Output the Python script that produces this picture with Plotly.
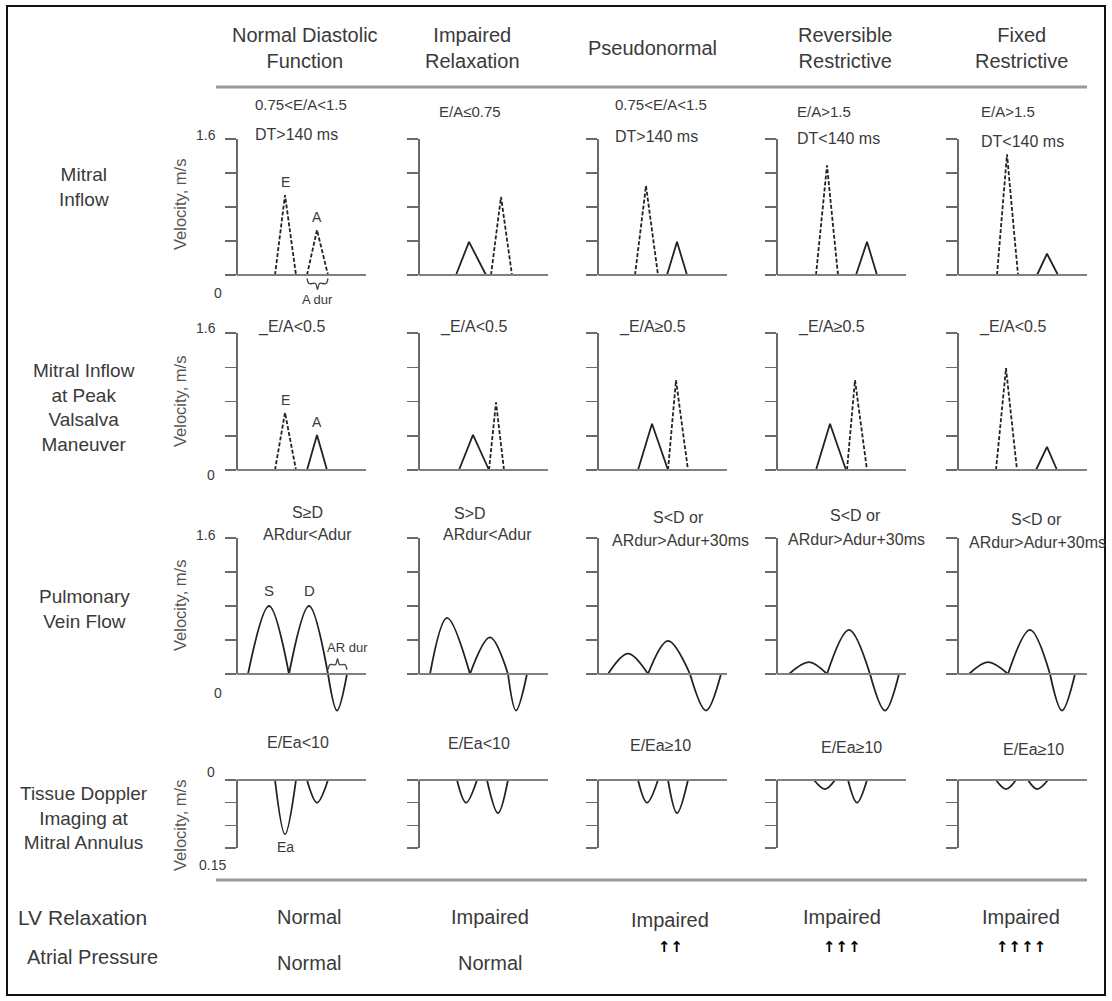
import plotly.graph_objects as go

W, H = 1112, 1001

# ---------------- data ----------------
column_titles = ["Normal Diastolic<br>Function", "Impaired<br>Relaxation", "Pseudonormal",
                 "Reversible<br>Restrictive", "Fixed<br>Restrictive"]
row_titles = ["Mitral<br>Inflow", "Mitral Inflow<br>at Peak<br>Valsalva<br>Maneuver",
              "Pulmonary<br>Vein Flow", "Tissue Doppler<br>Imaging at<br>Mitral Annulus"]

# Row 1: mitral inflow (time in arbitrary units, velocity m/s)
mi_E_start = [38, 37, 37, 39, 39]
mi_E_time = [48, 50, 48, 50, 49]
mi_E_end = [59, 67, 60, 61, 60]
mi_E_peak = [0.94, 0.39, 1.05, 1.29, 1.42]
mi_A_start = [70, 72, 69, 79, 79]
mi_A_time = [80, 82, 79, 90, 89]
mi_A_end = [91, 93, 89, 100, 100]
mi_A_peak = [0.53, 0.92, 0.39, 0.39, 0.25]
mi_crit_1 = ["0.75&lt;E/A&lt;1.5", "E/A≤0.75", "0.75&lt;E/A&lt;1.5", "E/A&gt;1.5", "E/A&gt;1.5"]
mi_crit_2 = ["DT&gt;140 ms", "", "DT&gt;140 ms", "DT&lt;140 ms", "DT&lt;140 ms"]

# Row 2: mitral inflow at peak Valsalva
vs_E_start = [38, 40, 40, 39, 38]
vs_E_time = [48, 54, 54, 53, 48]
vs_E_end = [59, 70, 70, 69, 59]
vs_E_peak = [0.67, 0.41, 0.54, 0.54, 1.19]
vs_A_start = [70, 70, 70, 70, 78]
vs_A_time = [80, 77, 78, 78, 89]
vs_A_end = [90, 85, 90, 90, 99]
vs_A_peak = [0.41, 0.79, 1.05, 1.05, 0.27]
vs_crit = ["_E/A&lt;0.5", "_E/A&lt;0.5", "_E/A≥0.5", "_E/A≥0.5", "_E/A&lt;0.5"]

# Row 3: pulmonary vein flow
pv_S_start = [11, 11, 10, 12, 11]
pv_S_time = [32, 28, 30, 32, 30]
pv_S_peak = [0.80, 0.66, 0.24, 0.14, 0.14]
pv_D_start = [52, 51, 50, 50, 50]
pv_D_time = [72, 71, 70, 72, 72]
pv_D_peak = [0.80, 0.43, 0.39, 0.52, 0.52]
pv_D_end = [91, 89, 92, 93, 92]
pv_AR_time = [100, 97, 108, 108, 104]
pv_AR_peak = [-0.43, -0.43, -0.43, -0.43, -0.43]
pv_AR_end = [110, 108, 123, 122, 117]
pv_crit_1 = ["S≥D", "S&gt;D", "S&lt;D or", "S&lt;D or", "S&lt;D or"]
pv_crit_2 = ["ARdur&lt;Adur", "ARdur&lt;Adur", "ARdur&gt;Adur+30ms", "ARdur&gt;Adur+30ms", "ARdur&gt;Adur+30ms"]

# Row 4: tissue Doppler imaging at mitral annulus (m/s, negative)
td_E_start = [38, 38, 40, 37, 38]
td_E_time = [48, 47, 49, 48, 48]
td_E_end = [59, 58, 60, 58, 58]
td_E_peak = [-0.12, -0.05, -0.05, -0.02, -0.02]
td_A_start = [70, 68, 70, 71, 70]
td_A_time = [80, 79, 79, 80, 79]
td_A_end = [91, 89, 90, 90, 90]
td_A_peak = [-0.05, -0.073, -0.073, -0.05, -0.02]
td_crit = ["E/Ea&lt;10", "E/Ea&lt;10", "E/Ea≥10", "E/Ea≥10", "E/Ea≥10"]

lv_relaxation = ["Normal", "Impaired", "Impaired", "Impaired", "Impaired"]
atrial_pressure = ["Normal", "Normal", "↑↑", "↑↑↑", "↑↑↑↑"]

# ---------------- layout geometry (pixels) ----------------
FONT = "Liberation Sans, Arial, sans-serif"
TXT = "#3a3a3a"
WAVE = "#222222"
AXC = "#6a6a6a"
AX_X = [237, 419, 598, 777, 958]
PANEL_W = 129
# (value_a, px_a, value_b, px_b, range_lo, range_hi, axis line lo, axis line hi, tickvals)
ROWS = [
    (1.6, 139, 0.0, 275, -0.3, 1.6, 0.0, 1.6, [0, 0.4, 0.8, 1.2, 1.6]),
    (1.6, 333, 0.0, 470, -0.05, 1.6, 0.0, 1.6, [0, 0.4, 0.8, 1.2, 1.6]),
    (1.6, 538, 0.0, 674, -0.5, 1.6, 0.0, 1.6, [0, 0.4, 0.8, 1.2, 1.6]),
    (0.0, 780, -0.15, 848, -0.16, 0.01, -0.15, 0.0, [0, -0.05, -0.10, -0.15]),
]


def px(x, y):
    return x / W, 1 - y / H


def vpx(r, v):
    va, pa, vb, pb = ROWS[r][:4]
    return pa + (v - va) * (pb - pa) / (vb - va)


def an(k):
    return "" if k == 1 else str(k)


fig = go.Figure()
layout = dict(width=W, height=H, margin=dict(l=0, r=0, t=0, b=0), autosize=False,
              paper_bgcolor="white", plot_bgcolor="rgba(0,0,0,0)", showlegend=False)
shapes = []
annotations = []


def ann(text, x, y, size=15, xanchor="center", yanchor="middle", color=TXT, angle=0,
        family=FONT, **kw):
    xp, yp = px(x, y)
    annotations.append(dict(text=text, x=xp, y=yp, xref="paper", yref="paper", showarrow=False,
                            xanchor=xanchor, yanchor=yanchor, textangle=angle,
                            font=dict(family=family, size=size, color=color), **kw))


for r in range(4):
    lo, hi = ROWS[r][4], ROWS[r][5]
    for c in range(5):
        k = r * 5 + c + 1
        s = an(k)
        xd = [AX_X[c] / W, (AX_X[c] + PANEL_W) / W]
        yd = [1 - vpx(r, lo) / H, 1 - vpx(r, hi) / H]
        layout[f"xaxis{s}"] = dict(domain=xd, range=[0, PANEL_W], visible=False, fixedrange=True,
                                   anchor=f"y{s}")
        layout[f"yaxis{s}"] = dict(domain=yd, range=[lo, hi], anchor=f"x{s}", showgrid=False,
                                   zeroline=False, showline=False, showticklabels=False,
                                   ticks="outside", ticklen=11, tickwidth=1.5, tickcolor=AXC,
                                   tickvals=ROWS[r][8], fixedrange=True)
        # y axis line
        shapes.append(dict(type="line", xref=f"x{s} domain", yref=f"y{s}", x0=0, x1=0,
                           y0=ROWS[r][6], y1=ROWS[r][7], line=dict(color=AXC, width=2)))
        # baseline
        shapes.append(dict(type="line", xref=f"x{s} domain", yref=f"y{s}", x0=0, x1=1,
                           y0=0, y1=0, line=dict(color="#808080", width=2.2)))


def lobe(k, t0, tp, vp, t1, smooth):
    s = an(k)
    steep = abs(vp) / (t1 - t0) > 0.024 and not smooth
    fig.add_trace(go.Scatter(
        x=[t0, tp, t1], y=[0, vp, 0], mode="lines", xaxis=f"x{s}", yaxis=f"y{s}",
        line=dict(color=WAVE, width=1.8, shape="spline" if smooth else "linear",
                  dash="4px,2px" if steep else "solid"),
        hoverinfo="skip", showlegend=False))


for c in range(5):
    k1, k2, k3, k4 = c + 1, c + 6, c + 11, c + 16
    lobe(k1, mi_E_start[c], mi_E_time[c], mi_E_peak[c], mi_E_end[c], False)
    lobe(k1, mi_A_start[c], mi_A_time[c], mi_A_peak[c], mi_A_end[c], False)
    lobe(k2, vs_E_start[c], vs_E_time[c], vs_E_peak[c], vs_E_end[c], False)
    lobe(k2, vs_A_start[c], vs_A_time[c], vs_A_peak[c], vs_A_end[c], False)
    lobe(k3, pv_S_start[c], pv_S_time[c], pv_S_peak[c], pv_D_start[c], True)
    lobe(k3, pv_D_start[c], pv_D_time[c], pv_D_peak[c], pv_D_end[c], True)
    lobe(k3, pv_D_end[c], pv_AR_time[c], pv_AR_peak[c], pv_AR_end[c], True)
    lobe(k4, td_E_start[c], td_E_time[c], td_E_peak[c], td_E_end[c], True)
    lobe(k4, td_A_start[c], td_A_time[c], td_A_peak[c], td_A_end[c], True)

# A dur bracket (under A wave, column 1 row 1)
a0, a1 = mi_A_start[0], mi_A_end[0]
am = (a0 + a1) / 2
fig.add_trace(go.Scatter(x=[a0, a0 + 2, am - 2, am, am + 2, a1 - 2, a1],
                         y=[-0.04, -0.1, -0.1, -0.17, -0.1, -0.1, -0.04], mode="lines",
                         xaxis="x", yaxis="y", line=dict(color="#444", width=1.3, shape="spline"),
                         hoverinfo="skip", showlegend=False))
# AR dur bracket (over AR wave, column 1 row 3)
r0, r1 = pv_D_end[0], pv_AR_end[0]
rm = (r0 + r1) / 2
fig.add_trace(go.Scatter(x=[r0, r0 + 2, rm - 2, rm, rm + 2, r1 - 2, r1],
                         y=[0.05, 0.11, 0.11, 0.18, 0.11, 0.11, 0.05], mode="lines",
                         xaxis="x11", yaxis="y11", line=dict(color="#444", width=1.3, shape="spline"),
                         hoverinfo="skip", showlegend=False))


def dann(text, k, x, y, yanchor="bottom", yshift=3, size=14):
    s = an(k)
    annotations.append(dict(text=text, x=x, y=y, xref=f"x{s}", yref=f"y{s}", showarrow=False,
                            xanchor="center", yanchor=yanchor, yshift=yshift,
                            font=dict(family=FONT, size=size, color=TXT)))


dann("E", 1, mi_E_time[0], mi_E_peak[0])
dann("A", 1, mi_A_time[0], mi_A_peak[0])
dann("A dur", 1, am, -0.17, yanchor="top", yshift=-1, size=13)
dann("E", 6, vs_E_time[0], vs_E_peak[0])
dann("A", 6, vs_A_time[0], vs_A_peak[0])
dann("S", 11, pv_S_time[0], pv_S_peak[0], yshift=5, size=15)
dann("D", 11, pv_D_time[0], pv_D_peak[0], yshift=5, size=15)
dann("AR dur", 11, r1, 0.2, yshift=0, size=13)
dann("Ea", 16, td_E_time[0], td_E_peak[0], yanchor="top", yshift=-3)

# column headers
hdr_x = [305, 472, 652, 845, 1021]
for c in range(5):
    ann(column_titles[c], hdr_x[c], 48, size=20)

# row titles
row_y = [187, 407, 609, 818]
for r in range(4):
    ann(row_titles[r], 84, row_y[r], size=19)

# criteria text
mi_x = [253, 437, 613, 795, 979]
mi_y1 = [104, 112, 104, 111, 112]
mi_y2 = [134, 0, 136, 139, 141]
for c in range(5):
    ann(mi_crit_1[c], mi_x[c], mi_y1[c], size=15, xanchor="left")
    if mi_crit_2[c]:
        ann(mi_crit_2[c], mi_x[c], mi_y2[c], size=16, xanchor="left")
for c in range(5):
    ann(vs_crit[c], AX_X[c] + 19, 327, size=16, xanchor="left")
pv_x1 = [307, 470, 678, 855, 1036]
pv_x2 = [307, 487, 680, 856, 1037]
pv_y1 = [512, 513, 517, 515, 519]
pv_y2 = [534, 534, 540, 539, 542]
for c in range(5):
    ann(pv_crit_1[c], pv_x1[c], pv_y1[c], size=16)
    ann(pv_crit_2[c], pv_x2[c], pv_y2[c], size=16)
td_x = [298, 479, 660, 851, 1033]
td_y = [742, 743, 745, 747, 749]
for c in range(5):
    ann(td_crit[c], td_x[c], td_y[c], size=16)

# axis value labels and titles (first column)
for y in (135, 328, 535):
    ann("1.6", 218, y, size=14, xanchor="right")
ann("0", 218, 293, size=14)
ann("0", 211, 475, size=14)
ann("0", 218, 693, size=14)
ann("0", 211, 772, size=14)
ann("0.15", 212, 865, size=14)
for y in (205, 402, 606, 826):
    ann("Velocity, m/s", 180, y, size=16.5, angle=-90, color="#555")

# bottom summary rows
ann("LV Relaxation", 16, 917, size=21, xanchor="left")
ann("Atrial Pressure", 25, 957, size=20, xanchor="left")
bot_x = [309, 490, 670, 842, 1021]
bot_y1 = [917, 917, 920, 917, 917]
for c in range(5):
    ann(lv_relaxation[c], bot_x[c], bot_y1[c], size=20)
    if atrial_pressure[c].startswith("↑"):
        ann("<b>" + atrial_pressure[c] + "</b>", bot_x[c], 947, size=15, color="#000000",
            family="DejaVu Sans")
    else:
        ann(atrial_pressure[c], bot_x[c], 963, size=20)

# frame and separator lines
shapes.append(dict(type="rect", xref="paper", yref="paper", x0=7 / W, x1=1105 / W,
                   y0=1 - 995 / H, y1=1 - 6 / H, line=dict(color="#111", width=2)))
for y in (87, 880):
    shapes.append(dict(type="line", xref="paper", yref="paper", x0=216 / W, x1=1087 / W,
                       y0=1 - y / H, y1=1 - y / H, line=dict(color="#9a9a9a", width=3)))

layout["shapes"] = shapes
layout["annotations"] = annotations
fig.update_layout(**layout)

fig.write_html("out.html", config={"staticPlot": True},
               post_script="document.body.style.margin='0';document.body.style.overflow='hidden';")
